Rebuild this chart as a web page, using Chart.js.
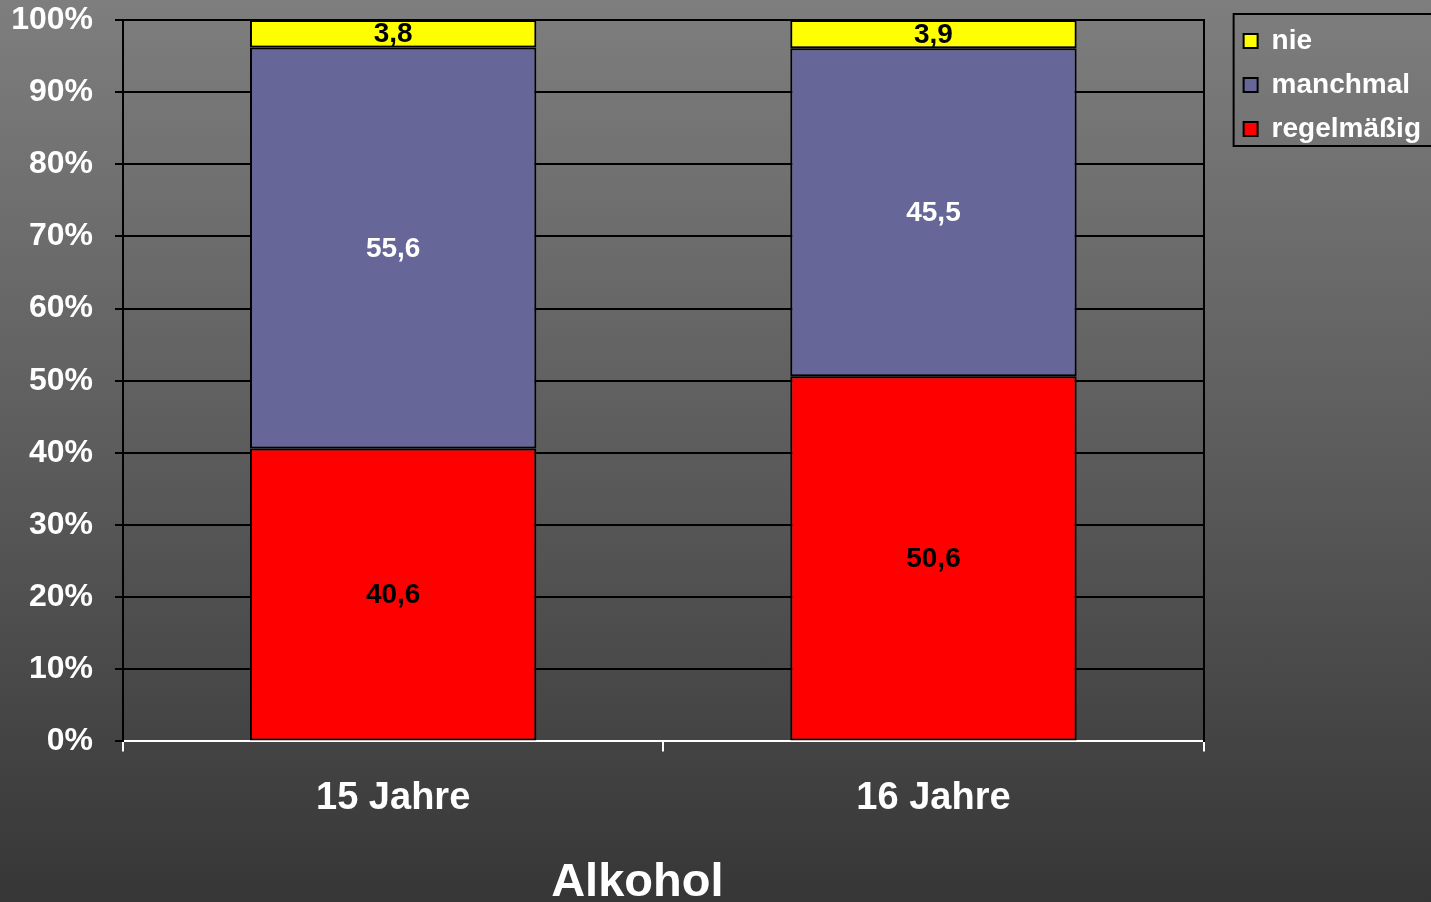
<!DOCTYPE html>
<html>
<head>
<meta charset="utf-8">
<script src="https://cdn.jsdelivr.net/npm/chart.js@4"></script>
<style>
  html, body { margin: 0; padding: 0; }
  #wrap {
    width: 1431px; height: 902px; position: relative;
    background: linear-gradient(to bottom, #7e7e7e 0%, #5c5c5c 50%, #363636 100%);
  }
</style>
</head>
<body>
<div id="wrap"><canvas id="alkoholChart"></canvas></div>
<script>
const categories = ['15 Jahre', '16 Jahre'];
const regelmaessig = [40.6, 50.6];
const manchmal = [55.6, 45.5];
const nie = [3.8, 3.9];
const chartTitle = 'Alkohol';

const FONT = "Arial, 'Liberation Sans', sans-serif";

// value labels inside the bar segments
const valueLabels = {
    id: 'valueLabels',
    afterDatasetsDraw(chart) {
        const ctx = chart.ctx;
        ctx.save();
        ctx.font = 'bold 28px ' + FONT;
        ctx.textAlign = 'center';
        ctx.textBaseline = 'middle';
        chart.data.datasets.forEach((ds, i) => {
            chart.getDatasetMeta(i).data.forEach((bar, j) => {
                ctx.fillStyle = ds.labelColor;
                ctx.fillText(String(ds.data[j]).replace('.', ','), bar.x, (bar.y + bar.base) / 2 + 1);
            });
        });
        ctx.restore();
    }
};

// legend frame + title under the chart
const extras = {
    id: 'extras',
    afterDraw(chart) {
        const ctx = chart.ctx;
        const lg = chart.legend;
        ctx.save();
        ctx.strokeStyle = '#000';
        ctx.lineWidth = 2;
        ctx.strokeRect(lg.left + 6, lg.top + 3, chart.width - lg.left - 5, 132);
        const a = chart.chartArea;
        ctx.fillStyle = '#fff';
        ctx.font = 'bold 47px ' + FONT;
        ctx.textAlign = 'center';
        ctx.textBaseline = 'alphabetic';
        ctx.fillText(chartTitle, (a.left + a.right) / 2 - 26, chart.height - 6);
        ctx.restore();
    }
};

new Chart(document.getElementById('alkoholChart').getContext('2d'), {
    type: 'bar',
    data: {
        labels: categories,
        datasets: [
            { label: 'regelmäßig', data: regelmaessig, backgroundColor: '#ff0000', labelColor: '#000' },
            { label: 'manchmal', data: manchmal, backgroundColor: '#666699', labelColor: '#fff' },
            { label: 'nie', data: nie, backgroundColor: '#ffff00', labelColor: '#000' }
        ].map(d => ({ ...d, borderColor: '#000', borderWidth: 2, borderSkipped: false,
                     categoryPercentage: 0.53, barPercentage: 1.0 }))
    },
    plugins: [valueLabels, extras],
    options: {
        responsive: true,
        maintainAspectRatio: false,
        animation: false,
        layout: { padding: { top: 11, right: 0, bottom: 57, left: 0 } },
        plugins: {
            legend: {
                position: 'right',
                align: 'start',
                reverse: true,
                labels: {
                    color: '#fff',
                    boxWidth: 14,
                    boxHeight: 14,
                    padding: 16,
                    font: { size: 28, weight: 'bold', family: FONT }
                }
            },
            tooltip: { enabled: false }
        },
        scales: {
            x: {
                stacked: true,
                grid: { drawOnChartArea: false, color: '#fff', lineWidth: 2, tickLength: 10 },
                border: { color: '#fff', width: 2 },
                ticks: { color: '#fff', padding: 24, font: { size: 38, weight: 'bold', family: FONT } }
            },
            y: {
                stacked: true,
                min: 0,
                max: 100,
                grid: {
                    color: c => c.tick && c.tick.value === 0 ? 'rgba(0,0,0,0)' : '#000',
                    tickColor: '#000',
                    lineWidth: 2,
                    tickLength: 8
                },
                border: { color: '#000', width: 2 },
                ticks: {
                    stepSize: 10,
                    color: '#fff',
                    padding: 22,
                    font: { size: 32, weight: 'bold', family: FONT },
                    callback: v => v + '%'
                },
                afterFit: s => { s.paddingTop = 20; s.width = 123; }
            },
            y2: {
                position: 'right',
                min: 0,
                max: 100,
                grid: { display: false },
                ticks: { display: false },
                border: { color: '#000', width: 2 },
                afterFit: s => { s.width = 24; }
            }
        }
    }
});
</script>
</body>
</html>
